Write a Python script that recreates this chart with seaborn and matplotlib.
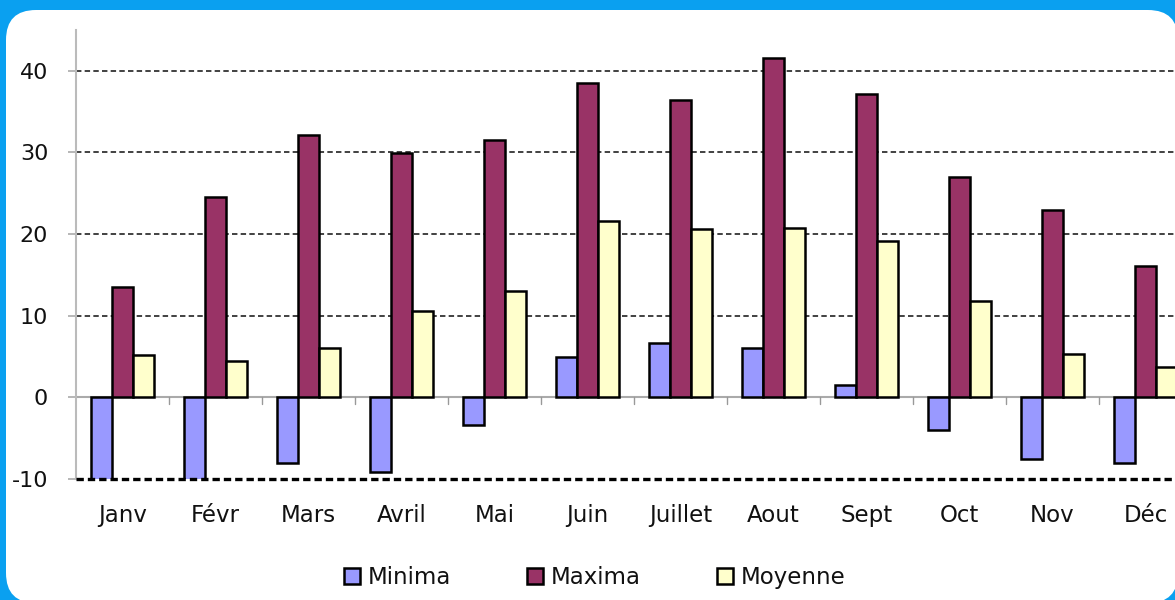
import pandas as pd
import seaborn as sns
import matplotlib.pyplot as plt
from matplotlib.patches import FancyBboxPatch

# monthly temperature values
mois = ['Janv', 'Févr', 'Mars', 'Avril', 'Mai', 'Juin', 'Juillet', 'Aout', 'Sept', 'Oct', 'Nov', 'Déc']
minima = [-11, -11, -8.1, -9.1, -3.4, 5.0, 6.6, 6.0, 1.5, -4.0, -7.5, -8.1]
maxima = [13.5, 24.5, 32.1, 29.9, 31.5, 38.5, 36.4, 41.6, 37.1, 27.0, 22.9, 16.1]
moyenne = [5.2, 4.4, 6.1, 10.6, 13.0, 21.6, 20.6, 20.7, 19.1, 11.8, 5.3, 3.7]
series = ['Minima', 'Maxima', 'Moyenne']
colors = ['#9999ff', '#993366', '#ffffcc']
yticks = [-10, 0, 10, 20, 30, 40]

# long format table for seaborn
df = pd.DataFrame({'Mois': mois, 'Minima': minima, 'Maxima': maxima, 'Moyenne': moyenne})
df = df.melt(id_vars='Mois', var_name='Série', value_name='Valeur')

sns.set_style('white')
plt.rcParams['font.family'] = ['DejaVu Sans']
plt.rcParams['text.color'] = '#111111'
plt.rcParams['axes.unicode_minus'] = False

fig = plt.figure(figsize=(11.75, 6), dpi=100)
fig.patch.set_facecolor('#0aa0f0')

# white rounded panel (pixel coordinates), kept behind the axes
panel = FancyBboxPatch((6, -3), 1172, 593, boxstyle='round,pad=0,rounding_size=30',
                       facecolor='white', edgecolor='none', transform=None, zorder=-10)
fig.patches.append(panel)

# axes runs a bit past the right edge, like the cropped original
ax = fig.add_axes([76 / 1175, 121 / 600, 1116 / 1175, 449 / 600])
ax.set_facecolor('none')

sns.barplot(data=df, x='Mois', y='Valeur', hue='Série', hue_order=series, palette=colors,
            saturation=1, width=0.68, gap=0, edgecolor='black', linewidth=1.8,
            errorbar=None, ax=ax, zorder=3)

ax.set_ylim(-10, 45)
ax.set_xlim(-0.5, len(mois) - 0.5)
ax.set_yticks(yticks)
ax.set_xlabel('')
ax.set_ylabel('')

# dashed grid, black at the bottom, gray solid axis line at zero
for y in yticks:
    if y == 0:
        ax.axhline(0, color='#aaaaaa', linewidth=1.5, zorder=2)
    elif y == -10:
        ax.axhline(y, color='black', linewidth=2.4, linestyle=(0, (2.2, 1.2)), zorder=4, clip_on=False)
    else:
        ax.axhline(y, color='#333333', linewidth=1.3, linestyle=(0, (3, 1.8)), zorder=1)

# small category separators under the zero line
for k in range(1, len(mois)):
    ax.plot([k - 0.5, k - 0.5], [0, -0.8], color='#999999', linewidth=1, zorder=2)

for side in ['top', 'right', 'bottom']:
    ax.spines[side].set_visible(False)
ax.spines['left'].set_color('#bbbbbb')
ax.spines['left'].set_linewidth(1.5)

ax.tick_params(axis='y', length=6, width=1.2, color='#aaaaaa', labelsize=16, pad=14,
               left=True, labelcolor='#111111')
ax.tick_params(axis='x', length=0, labelsize=16.5, pad=18, labelcolor='#111111')

sns.move_legend(ax, 'center', bbox_to_anchor=(0.506, 0.037), bbox_transform=fig.transFigure,
                ncol=3, frameon=False, title=None, fontsize=16.5, handlelength=0.7,
                handleheight=0.7, handletextpad=0.35, columnspacing=3.3)

plt.savefig('out.png', dpi=100, facecolor=fig.get_facecolor())
